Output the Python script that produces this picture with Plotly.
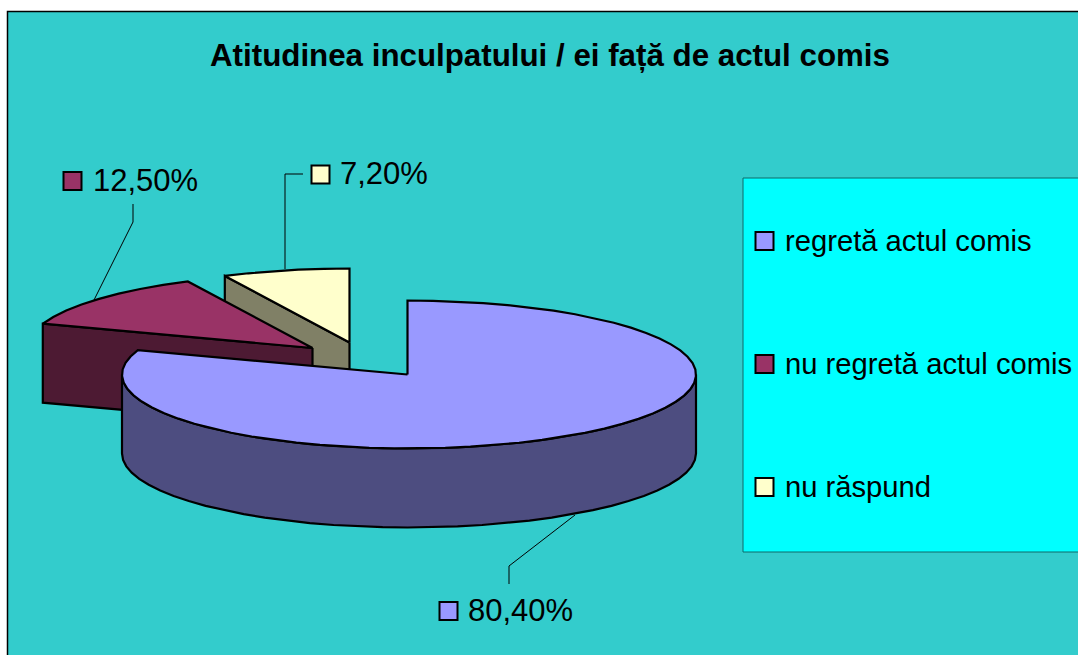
import numpy as np
import plotly.graph_objects as go

# ---- data ----
title = "Atitudinea inculpatului / ei față de actul comis"
categories = ["regretă actul comis", "nu regretă actul comis", "nu răspund"]
values = [80.4, 12.5, 7.2]
value_labels = ["80,40%", "12,50%", "7,20%"]
top_colors = ["#9999FF", "#993366", "#FFFFCC"]
wall_colors = ["#4D4D80", "#4D1A33", "#808066"]

# ---- layout constants (pixels of the 1078x655 page) ----
W, H = 1078, 655
RX_RIGHT, RX_LEFT, RY, DEPTH = 288.5, 285.5, 74.0, 79.0
apexes = [(407.5, 374.5), (312.5, 348.0), (349.5, 342.5)]
key_pos = [(448.5, 611), (72.5, 181), (320.5, 174.5)]
text_x = [468, 93, 340]
leaders = [
    ([575, 509, 509], [515, 566, 584]),
    ([94, 133, 133], [300, 222, 204]),
    ([285, 285, 303], [269, 174, 174]),
]
legend_box = (743, 178, 1085, 552)
legend_y = [241, 364, 487]

total = sum(values)
edges = np.cumsum([0] + values) / total * 360.0


def sx_of(t):
    s = np.sin(t)
    return s * np.where(s >= 0, RX_RIGHT, RX_LEFT)


def rim(ax, ay, a0, a1):
    n = max(int(abs(a1 - a0) / 5), 2)
    t = np.radians(np.linspace(a0, a1, n + 1))
    return ax + sx_of(t), ay - RY * np.cos(t)


fig = go.Figure()


def poly(xs, ys, color, name):
    fig.add_trace(go.Scatter(
        x=list(xs), y=list(ys), mode="lines", fill="toself", fillcolor=color,
        line=dict(color="black", width=2.2), name=name,
        hoverinfo="skip", showlegend=False,
    ))


# painted back to front: yellow, maroon, then the big slice
for i in [2, 1, 0]:
    ax, ay = apexes[i]
    a0, a1 = edges[i], edges[i + 1]
    if i == 0:
        # outer wall of the big slice, right end round the front to the left end
        rx, ry = rim(ax, ay, 90, 270)
        poly(np.r_[rx, rx[::-1], rx[0]], np.r_[ry, ry[::-1] + DEPTH, ry[0]], wall_colors[i], categories[i])
    else:
        # cut face visible from the front
        sx, sy = rim(ax, ay, a0, a0 + 1)
        sx, sy = sx[0], sy[0]
        poly([ax, sx, sx, ax, ax], [ay, sy, sy + DEPTH, ay + DEPTH, ay], wall_colors[i], categories[i])
    rx, ry = rim(ax, ay, a0, a1)
    poly(np.r_[ax, rx, ax], np.r_[ay, ry, ay], top_colors[i], categories[i])

# leader lines
for lx, ly in leaders:
    fig.add_trace(go.Scatter(x=lx, y=ly, mode="lines", line=dict(color="black", width=1),
                             hoverinfo="skip", showlegend=False))

# data label keys and legend keys
fig.add_trace(go.Scatter(
    x=[p[0] for p in key_pos], y=[p[1] for p in key_pos], mode="markers",
    marker=dict(symbol="square", size=18, color=top_colors, line=dict(color="black", width=2)),
    hoverinfo="skip", showlegend=False))
fig.add_trace(go.Scatter(
    x=[764.5] * 3, y=legend_y, mode="markers",
    marker=dict(symbol="square", size=18, color=top_colors, line=dict(color="black", width=2)),
    hoverinfo="skip", showlegend=False))

FONT = "Liberation Sans"
ann = [dict(x=550, y=55, text="<b>%s</b>" % title, showarrow=False, xanchor="center", yanchor="middle",
            font=dict(family=FONT, size=31.3, color="black"))]
for i in range(3):
    ann.append(dict(x=text_x[i], y=key_pos[i][1] - 1, text=value_labels[i], showarrow=False,
                    xanchor="left", yanchor="middle", xshift=-2,
                    font=dict(family=FONT, size=31, color="black")))
    ann.append(dict(x=785, y=legend_y[i], text=categories[i], showarrow=False,
                    xanchor="left", yanchor="middle", xshift=-2,
                    font=dict(family=FONT, size=29.2, color="black")))

fig.update_layout(
    width=W, height=H, margin=dict(l=0, r=0, t=0, b=0),
    paper_bgcolor="white", plot_bgcolor="white",
    xaxis=dict(range=[0, W], visible=False, fixedrange=True),
    yaxis=dict(range=[H, 0], visible=False, fixedrange=True),
    annotations=ann,
    shapes=[
        dict(type="rect", x0=7.5, y0=11.5, x1=W + 20, y1=H + 20, layer="below",
             fillcolor="#33CCCC", line=dict(color="black", width=1.5)),
        dict(type="rect", x0=legend_box[0], y0=legend_box[1], x1=legend_box[2], y1=legend_box[3],
             layer="below", fillcolor="#00FFFF", line=dict(color="#0E6A6A", width=1)),
    ],
)
fig.write_html("out.html", config={"displayModeBar": False},
               post_script="document.body.style.margin='0';")
